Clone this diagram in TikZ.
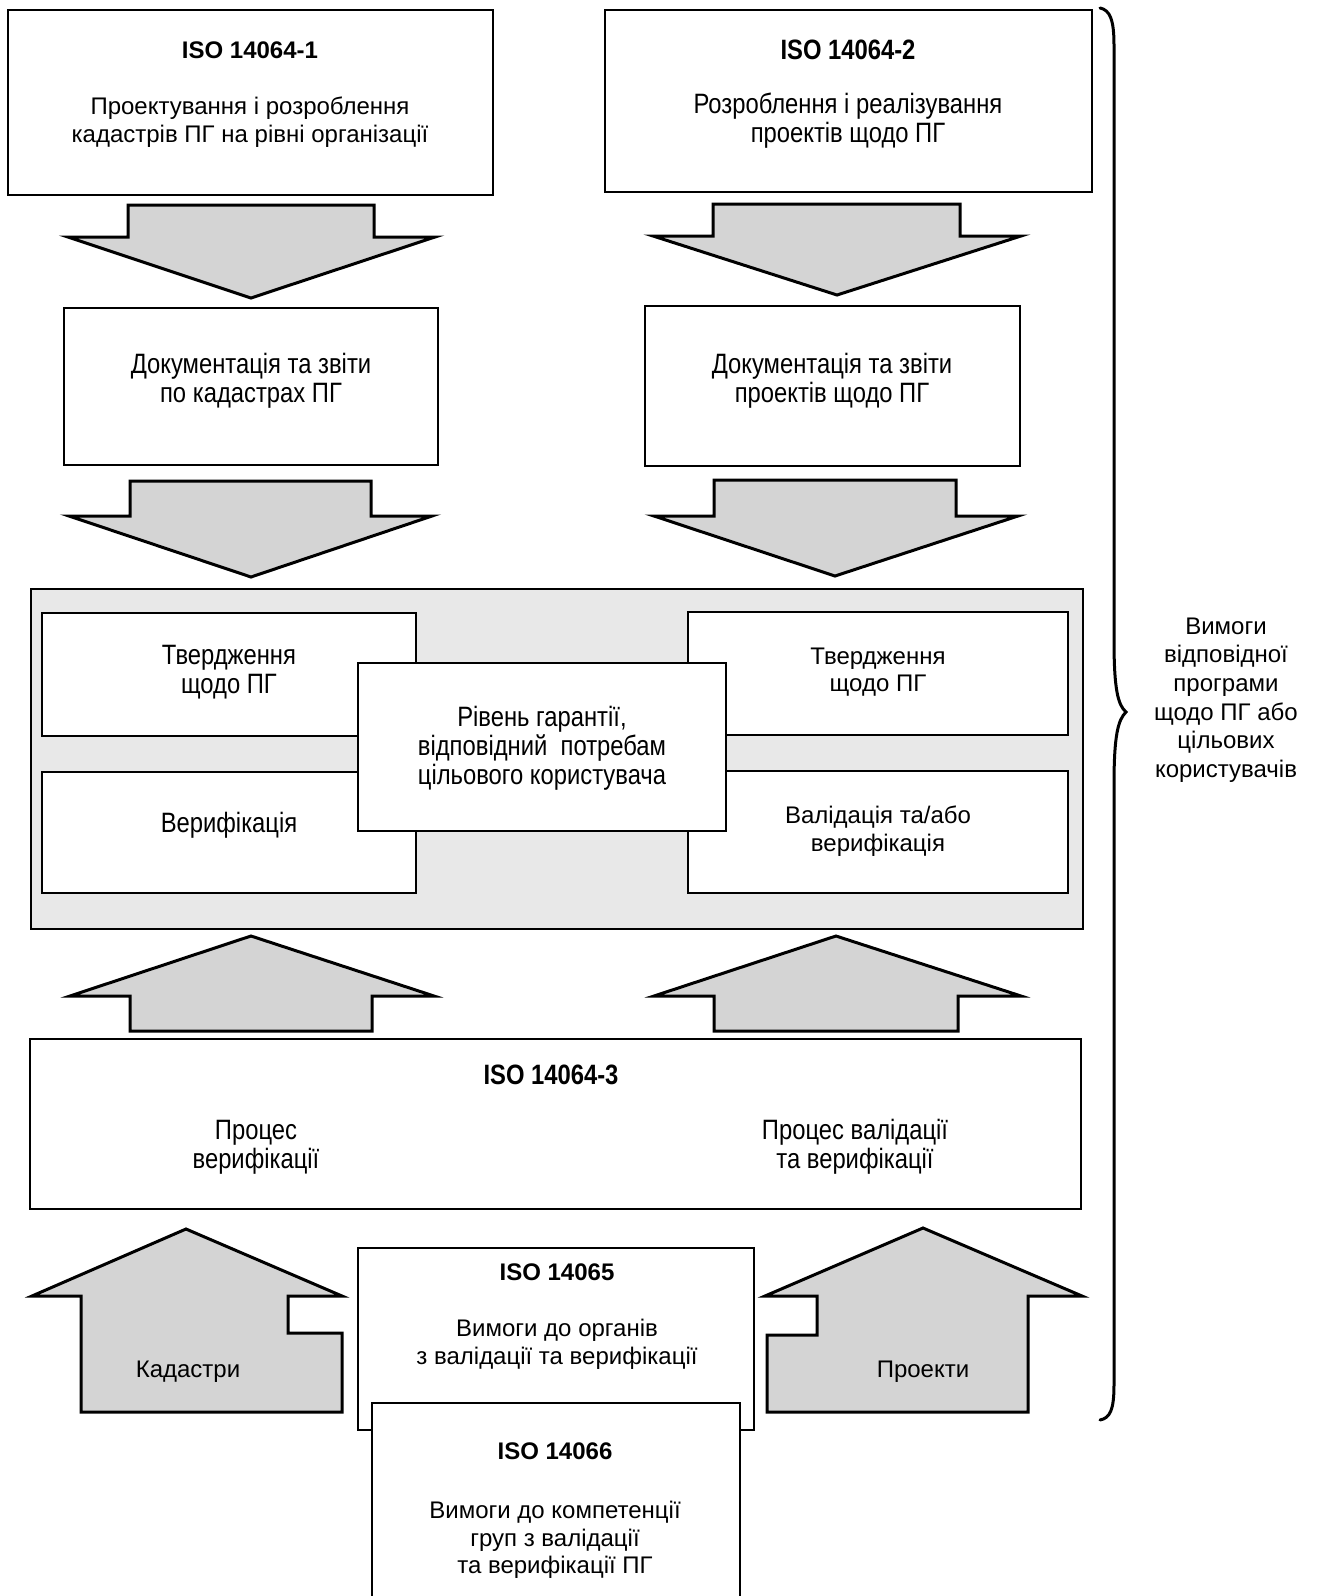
\documentclass[tikz,border=0pt]{standalone}
\usepackage{fontspec}
\setmainfont{Liberation Sans}
\newfontfamily\nar[FakeStretch=0.85]{Liberation Sans}
\begin{document}
\begin{tikzpicture}[x=0.5pt,y=-0.5pt,
  boxst/.style={draw=black,line width=1pt,fill=white,inner sep=0pt,outer sep=0pt},
  panelst/.style={draw=black,line width=1pt,fill=black!9,inner sep=0pt,outer sep=0pt},
  blk/.style={draw=black,line width=1.5pt,fill=black!17,line join=miter},
  reg/.style={font=\fontsize{12}{13.8}\selectfont,align=center,inner sep=0pt},
  nrw/.style={font=\nar\fontsize{14}{14.4}\selectfont,align=center,inner sep=0pt},
  brc/.style={font=\fontsize{12}{14.3}\selectfont,align=center,inner sep=0pt}]
\newcommand\boxnode[6]{\node[#1, minimum width={(#5-#3)*0.5pt}, minimum height={(#6-#4)*0.5pt}] (#2) at ({(#3+#5)/2},{(#4+#6)/2}) {};}
\useasboundingbox (0,0) rectangle (1318,1596);

% top boxes
\boxnode{boxst}{b1}{8}{10}{493}{195}
\boxnode{boxst}{b2}{605}{10}{1092}{192}
\node[reg] (b1t) at (250,50) {\bfseries ISO 14064-1};
\node[reg] (b1b) at (250,122) {Проектування і розроблення\\кадастрів ПГ на рівні організації};
\node[nrw] (b2t) at (848,50) {\bfseries ISO 14064-2};
\node[nrw] (b2b) at (848,121) {Розроблення і реалізування\\проектів щодо ПГ};

% down arrows 1
\draw[blk] (128,205) -- (374,205) -- (374,237) -- (435,237) -- (251,298) -- (68,237) -- (128,237) -- cycle;
\draw[blk] (713,204) -- (960,204) -- (960,236) -- (1021,236) -- (837,295) -- (653,236) -- (713,236) -- cycle;

% documentation boxes
\boxnode{boxst}{b3}{64}{308}{438}{465}
\boxnode{boxst}{b4}{645}{306}{1020}{466}
\node[nrw] (b3t) at (251,381) {Документація та звіти\\по кадастрах ПГ};
\node[nrw] (b4t) at (832,381) {Документація та звіти\\проектів щодо ПГ};

% down arrows 2
\draw[blk] (130,481) -- (371,481) -- (371,516) -- (432,516) -- (251,577) -- (69,516) -- (130,516) -- cycle;
\draw[blk] (714,480) -- (956,480) -- (956,516) -- (1018,516) -- (835,576) -- (654,516) -- (714,516) -- cycle;

% panel
\boxnode{panelst}{pn}{31}{589}{1083}{929}
\boxnode{boxst}{p1}{42}{613}{416}{736}
\boxnode{boxst}{p2}{42}{772}{416}{893}
\boxnode{boxst}{p3}{688}{612}{1068}{735}
\boxnode{boxst}{p4}{688}{771}{1068}{893}
\boxnode{boxst}{pc}{358}{663}{726}{831}
\node[nrw] (p1t) at (229,672) {Твердження\\щодо ПГ};
\node[nrw] (p2t) at (229,825) {Верифікація};
\node[reg] (p3t) at (878,672) {Твердження\\щодо ПГ};
\node[reg] (p4t) at (878,831) {Валідація та/або\\верифікація};
\node[nrw] (pct) at (542,748) {Рівень гарантії,\\відповідний\ \ потребам\\цільового користувача};

% up arrows
\draw[blk] (251,936) -- (434,996) -- (372,996) -- (372,1031) -- (130,1031) -- (130,996) -- (70,996) -- cycle;
\draw[blk] (836,936) -- (1021,996) -- (958,996) -- (958,1031) -- (714,1031) -- (714,996) -- (654,996) -- cycle;

% ISO 14064-3
\boxnode{boxst}{b5}{30}{1039}{1081}{1209}
\node[nrw] (b5t) at (551,1075) {\bfseries ISO 14064-3};
\node[nrw] (b5l) at (256,1147) {Процес\\верифікації};
\node[nrw] (b5r) at (855,1147) {Процес валідації\\та верифікації};

% bottom arrows
\draw[blk] (186,1229) -- (342,1296) -- (288,1296) -- (288,1333) -- (342,1333) -- (342,1412) -- (81,1412) -- (81,1296) -- (32,1296) -- cycle;
\node[reg] (kad) at (188,1372) {Кадастри};
\draw[blk] (923,1228) -- (1082,1296) -- (1028,1296) -- (1028,1412) -- (767,1412) -- (767,1335) -- (817,1335) -- (817,1296) -- (765,1296) -- cycle;
\node[reg] (pro) at (923,1372) {Проекти};

% ISO 14065 / 14066
\boxnode{boxst}{b6}{358}{1248}{754}{1430}
\node[reg] (b6t) at (557,1272) {\bfseries ISO 14065};
\node[reg] (b6b) at (557,1344) {Вимоги до органів\\з валідації та верифікації};
\boxnode{boxst}{b7}{372}{1403}{740}{1610}
\node[reg] (b7t) at (555,1451) {\bfseries ISO 14066};
\node[reg] (b7b) at (555,1540) {Вимоги до компетенції\\груп з валідації\\та верифікації ПГ};

% brace
\draw[line width=1.5pt,line cap=round] (1100,8) .. controls (1110,10) and (1114,20) .. (1114,45) -- (1114,640)
  .. controls (1114,690) and (1118,705) .. (1126,712) .. controls (1118,720) and (1114,735) .. (1114,785)
  -- (1114,1385) .. controls (1114,1410) and (1110,1418) .. (1100,1420);
\node[brc] (brt) at (1226,700) {Вимоги\\відповідної\\програми\\щодо ПГ або\\цільових\\користувачів};
\end{tikzpicture}
\end{document}
